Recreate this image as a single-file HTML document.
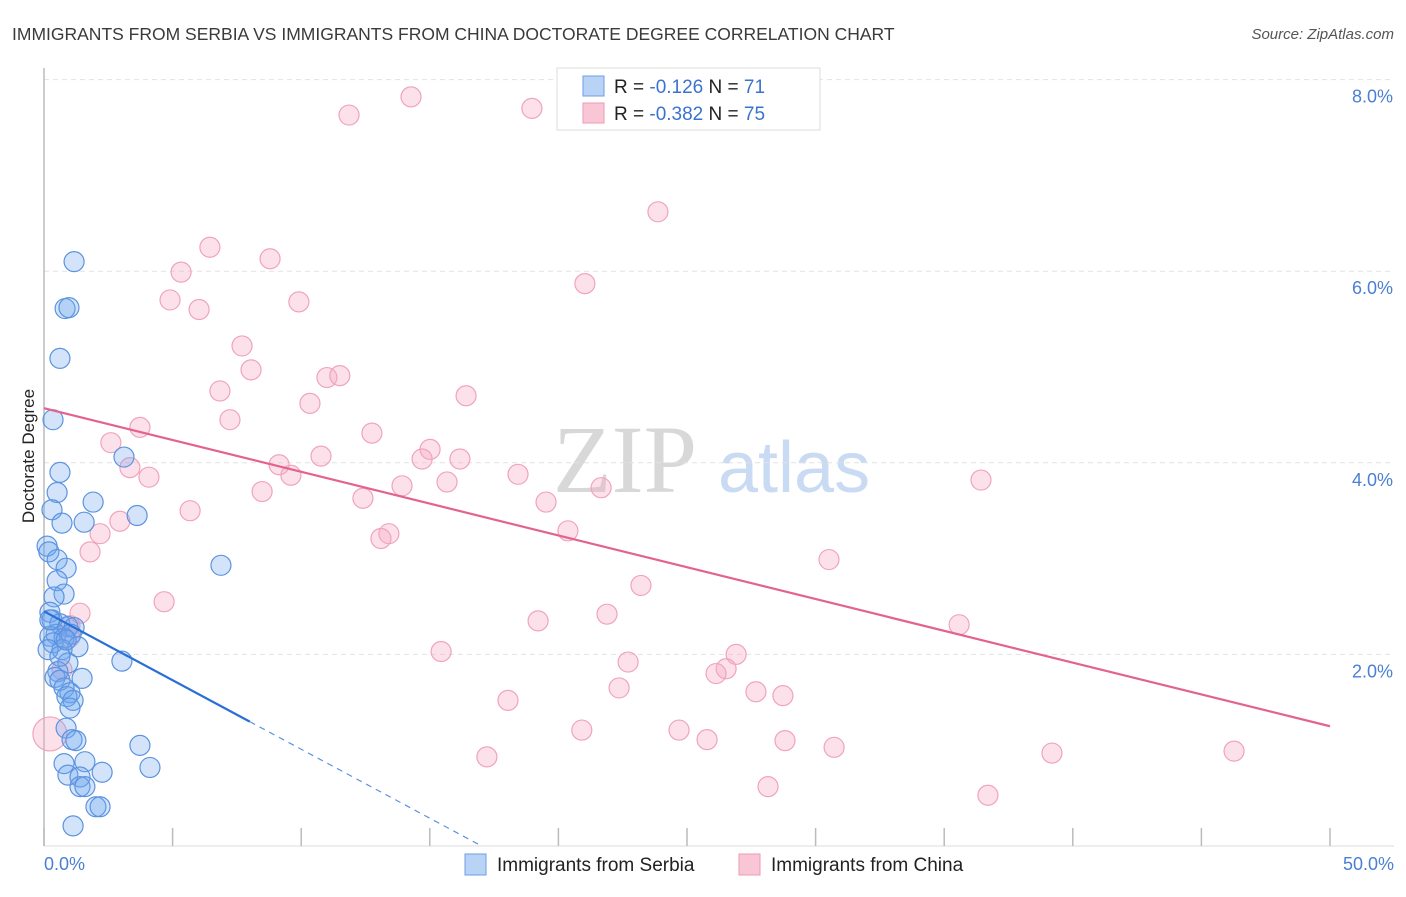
<!DOCTYPE html>
<html><head><meta charset="utf-8"><style>
body{margin:0;background:#fff;font-family:"Liberation Sans",sans-serif}
</style></head><body>
<svg id="c" width="1406" height="892" xmlns="http://www.w3.org/2000/svg" style="font-family:'Liberation Sans',sans-serif">
<text x="12" y="40" font-size="17.5" fill="#3a3a3a">IMMIGRANTS FROM SERBIA VS IMMIGRANTS FROM CHINA DOCTORATE DEGREE CORRELATION CHART</text>
<text x="1394" y="39" font-size="15" fill="#555" font-style="italic" text-anchor="end">Source: ZipAtlas.com</text>
<g><text x="553" y="492" font-size="96" font-family="Liberation Serif,serif" fill="#d8d8d8">ZIP</text><text x="718" y="492" font-size="72" fill="#c9daf3">atlas</text></g>
<g id="grid"></g><g id="axes"></g><g id="pts"></g><g id="lines"></g>
<text x="34" y="456" font-size="17" fill="#222" text-anchor="middle" transform="rotate(-90 34 456)">Doctorate Degree</text>
<text x="44" y="870" font-size="18" fill="#4a7fd4">0.0%</text>
<text x="1394" y="870" font-size="18" fill="#4a7fd4" text-anchor="end">50.0%</text>
<g>
<rect x="557" y="68" width="263" height="62" fill="#fff" stroke="#ddd"/>
<rect x="583" y="76" width="21" height="20" fill="#b9d3f7" stroke="#6d9ee6"/>
<rect x="583" y="103" width="21" height="20" fill="#f9c6d5" stroke="#ef9ab5"/>
<text x="614" y="93" font-size="19" fill="#222">R = <tspan fill="#3a73cf"> -0.126</tspan>   N = <tspan fill="#3a73cf"> 71</tspan></text>
<text x="614" y="120" font-size="19" fill="#222">R = <tspan fill="#3a73cf">-0.382</tspan>   N = <tspan fill="#3a73cf">75</tspan></text>
</g>
<g>
<rect x="465" y="854" width="21" height="21" fill="#b9d3f7" stroke="#6d9ee6"/>
<text x="497" y="871" font-size="19" fill="#222">Immigrants from Serbia</text>
<rect x="739" y="854" width="21" height="21" fill="#f9c6d5" stroke="#ef9ab5"/>
<text x="771" y="871" font-size="19" fill="#222">Immigrants from China</text>
</g>
</svg>
<script>
const yTicks=[2,4,6,8];
const yTickLabels=["2.0%","4.0%","6.0%","8.0%"];
const xTicks=[0,5,10,15,20,25,30,35,40,45,50];
const serbiaX=[1.17,0.82,0.97,0.62,0.35,3.11,0.62,0.51,1.91,0.31,3.62,1.56,0.70,0.12,0.19,0.51,6.88,0.86,0.51,0.78,0.39,0.23,0.31,0.62,0.93,1.17,0.47,0.23,0.78,1.05,0.35,1.32,0.70,3.03,0.16,0.93,0.54,0.43,0.62,1.48,0.78,1.01,0.89,1.13,1.01,0.86,1.09,3.73,1.24,0.78,1.59,4.12,0.93,1.40,2.26,1.40,1.59,2.02,2.18,1.13,0.23,0.62,0.86];
const serbiaY=[6.10,5.61,5.62,5.09,4.45,4.06,3.90,3.69,3.59,3.51,3.45,3.38,3.37,3.13,3.07,2.99,2.93,2.90,2.77,2.63,2.60,2.44,2.36,2.32,2.29,2.28,2.21,2.19,2.17,2.21,2.12,2.08,2.05,1.93,2.05,1.91,1.82,1.76,1.73,1.75,1.65,1.60,1.56,1.52,1.44,1.23,1.11,1.05,1.10,0.86,0.88,0.82,0.74,0.72,0.77,0.62,0.62,0.41,0.41,0.21,2.36,1.98,2.15];
const chinaX=[14.27,18.97,11.86,29.70,23.87,6.45,5.33,8.79,4.90,6.03,9.91,21.03,7.70,8.05,6.84,11.00,11.50,10.34,16.41,7.23,3.73,2.60,12.75,15.01,14.70,16.17,10.77,9.14,9.60,3.34,4.08,18.43,15.67,13.92,8.48,21.66,36.43,12.40,19.52,5.68,2.95,2.18,13.41,13.10,20.37,1.79,30.52,23.21,4.67,1.40,21.89,19.21,35.58,1.01,15.44,26.91,22.71,26.52,26.13,0.70,22.36,27.68,28.73,18.04,20.91,24.69,25.78,28.81,30.72,39.19,46.27,17.22,28.15,36.70,1.0];
const chinaY=[7.82,7.70,7.63,7.91,6.62,6.25,5.99,6.13,5.70,5.60,5.68,5.87,5.22,4.97,4.75,4.89,4.91,4.62,4.70,4.45,4.37,4.21,4.31,4.14,4.04,4.04,4.07,3.98,3.87,3.95,3.85,3.88,3.80,3.76,3.70,3.74,3.82,3.63,3.59,3.50,3.39,3.26,3.26,3.21,3.29,3.07,2.99,2.72,2.55,2.43,2.42,2.35,2.31,2.30,2.03,2.00,1.92,1.85,1.80,1.84,1.65,1.61,1.57,1.52,1.21,1.21,1.11,1.10,1.03,0.97,0.99,0.93,0.62,0.53,2.18];
const bigChina=[0.23,1.17];
const serbiaFit=[2.45,-0.144];
const chinaFit=[4.57,-0.0664];
const NS="http://www.w3.org/2000/svg";
const X=v=>44+v/50*1286, Y=v=>846-v*95.8;
function mk(t,a,p){const e=document.createElementNS(NS,t);for(const k in a)e.setAttribute(k,a[k]);p.appendChild(e);return e;}
const grid=document.getElementById('grid'),axes=document.getElementById('axes'),pts=document.getElementById('pts'),lines=document.getElementById('lines');
yTicks.forEach((t,i)=>{const l=mk('line',{x1:44,x2:1394,y1:Y(t),y2:Y(t),stroke:'#e2e2e2','stroke-dasharray':'5,4'},grid);

const tx=mk('text',{x:1393,y:Y(t)+23,'font-size':18,fill:'#4a7fd4','text-anchor':'end'},grid);tx.textContent=yTickLabels[i];
});
mk('line',{x1:1394,x2:1394,y1:Y(8)-14,y2:Y(8)-14,stroke:'#e2e2e2'},grid);
let a=mk('line',{x1:44,x2:44,y1:68,y2:846,stroke:'#bbb','stroke-width':1.5},axes);
a=mk('line',{x1:44,x2:1394,y1:846,y2:846,stroke:'#ddd'},axes);
xTicks.forEach(t=>{const l=mk('line',{x1:X(t),x2:X(t),y1:828,y2:846,stroke:'#bbb','stroke-width':1.5},axes);
});
function dot(x,y,r,f,s,n){const c=mk('circle',{cx:X(x),cy:Y(y),r:r,fill:f,stroke:s,'stroke-width':1.2},pts);
}
chinaX.forEach((x,i)=>dot(x,chinaY[i],10,'rgba(246,168,195,0.35)','#f0a3bd','china-point'));
dot(bigChina[0],bigChina[1],17,'rgba(246,168,195,0.35)','#f0a3bd','china-point-large');
serbiaX.forEach((x,i)=>dot(x,serbiaY[i],10,'rgba(110,165,240,0.3)','#5b93e0','serbia-point'));
let l=mk('line',{x1:X(0),y1:Y(chinaFit[0]),x2:X(50),y2:Y(chinaFit[0]+chinaFit[1]*50),stroke:'#e4638e','stroke-width':2.2},lines);

l=mk('line',{x1:X(0),y1:Y(serbiaFit[0]),x2:X(8),y2:Y(serbiaFit[0]+serbiaFit[1]*8),stroke:'#2a6fd6','stroke-width':2.2},lines);

const x0=-serbiaFit[0]/serbiaFit[1];
l=mk('line',{x1:X(8),y1:Y(serbiaFit[0]+serbiaFit[1]*8),x2:X(x0),y2:Y(0),stroke:'#5b93e0','stroke-width':1.2,'stroke-dasharray':'6,5'},lines);

</script>
</body></html>
